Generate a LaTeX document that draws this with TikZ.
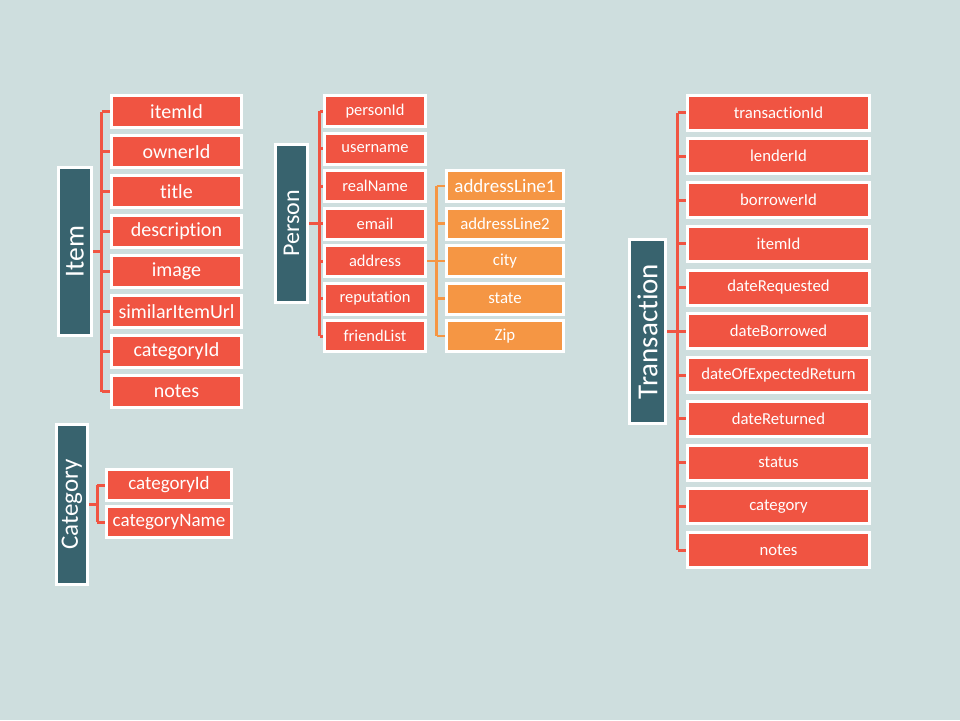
\documentclass[tikz,border=0pt]{standalone}
\usepackage{fontspec}
\setmainfont[Ligatures=NoCommon]{Carlito}
\usetikzlibrary{shadows}
\definecolor{bgcol}{RGB}{206,222,222}
\definecolor{fieldred}{RGB}{240,84,66}
\definecolor{suborange}{RGB}{245,150,68}
\definecolor{entteal}{RGB}{56,99,110}

\begin{document}
\begin{tikzpicture}[x=1pt, y=-1pt,
    entity/.style={draw=white, line width=3pt, fill=entteal, text=white, rotate=90, inner sep=0pt,
      drop shadow={shadow xshift=1.5pt, shadow yshift=-1.5pt, opacity=0.3}},
    field/.style={draw=white, line width=3pt, fill=fieldred, text=white, inner sep=0pt,
      drop shadow={shadow xshift=1.5pt, shadow yshift=-1.5pt, opacity=0.3}},
    subfield/.style={field, fill=suborange},
    link/.style={draw=fieldred, line width=3pt},
    sublink/.style={draw=suborange, line width=2.5pt}]

  % --- Canvas ---
  \fill[bgcol] (0,0) rectangle (960,720);
  \useasboundingbox (0,0) rectangle (960,720);

  % --- Item ---
  \node[entity, minimum width=168pt, minimum height=33pt, font=\fontsize{27.5}{30}\selectfont] (item) at (75,251.5) {Item};
  \foreach \name [count=\i] in {itemId, ownerId, title, description, image, similarItemUrl, categoryId, notes} {
    \node[field, minimum width=130pt, minimum height=32pt, font=\fontsize{20}{22}\selectfont] (item-\i) at (176.5, {111.5+40*(\i-1)}) {\name};
  }
  \coordinate (itembus) at (101.5,251.5);
  \draw[link] (item.south) -- (itembus);
  \draw[link] (itembus |- item-1) -- (itembus |- item-8);
  \foreach \i in {1,...,8} {
    \draw[link] (itembus |- item-\i) -- (item-\i.west);
  }

  % --- Category ---
  \node[entity, minimum width=160pt, minimum height=31pt, font=\fontsize{25}{28}\selectfont] (category) at (72,504.5) {Category};
  \foreach \name [count=\i] in {categoryId, categoryName} {
    \node[field, minimum width=125pt, minimum height=31pt, font=\fontsize{19}{21}\selectfont] (category-\i) at (169, {485+37*(\i-1)}) {\name};
  }
  \coordinate (catbus) at (97,504.5);
  \draw[link] (category.south) -- (catbus);
  \draw[link] (catbus |- category-1) -- (catbus |- category-2);
  \foreach \i in {1,2} {
    \draw[link] (catbus |- category-\i) -- (category-\i.west);
  }

  % --- Person ---
  \node[entity, minimum width=158pt, minimum height=32pt, font=\fontsize{24}{27}\selectfont] (person) at (291.5,223.5) {Person};
  \foreach \name [count=\i] in {personId, username, realName, email, address, reputation, friendList} {
    \node[field, minimum width=101pt, minimum height=31pt, font=\fontsize{16.5}{19}\selectfont] (person-\i) at (375, {111+37.5*(\i-1)}) {\name};
  }
  \coordinate (personbus) at (319.5,223.5);
  \draw[link] (person.south) -- (personbus);
  \draw[link] (personbus |- person-1) -- (personbus |- person-7);
  \foreach \i in {1,...,7} {
    \draw[link] (personbus |- person-\i) -- (person-\i.west);
  }

  % address parts
  \node[subfield, minimum width=117pt, minimum height=31pt, font=\fontsize{19}{21}\selectfont] (addr-1) at (505,186) {addressLine1};
  \foreach \name [count=\i from 2] in {addressLine2, city, state, Zip} {
    \node[subfield, minimum width=117pt, minimum height=31pt, font=\fontsize{16.8}{19}\selectfont] (addr-\i) at (505, {186+37.5*(\i-1)}) {\name};
  }
  \coordinate (addrbus) at (436.5,261);
  \draw[sublink] (person-5.east) -- (addrbus);
  \draw[sublink] (addrbus |- addr-1) -- (addrbus |- addr-5);
  \foreach \i in {1,...,5} {
    \draw[sublink] (addrbus |- addr-\i) -- (addr-\i.west);
  }

  % --- Transaction ---
  \node[entity, minimum width=184pt, minimum height=36pt, font=\fontsize{29}{32}\selectfont] (transaction) at (647.5,331.5) {Transaction};
  \foreach \name [count=\i] in {transactionId, lenderId, borrowerId, itemId, dateRequested, dateBorrowed,
      dateOfExpectedReturn, dateReturned, status, category, notes} {
    \node[field, minimum width=182pt, minimum height=35pt, font=\fontsize{16.7}{19}\selectfont] (trans-\i) at (778.5, {112.5+43.75*(\i-1)}) {\name};
  }
  \coordinate (transbus) at (677.5,331.5);
  \draw[link] (transaction.south) -- (transbus);
  \draw[link] (transbus |- trans-1) -- (transbus |- trans-11);
  \foreach \i in {1,...,11} {
    \draw[link] (transbus |- trans-\i) -- (trans-\i.west);
  }

\end{tikzpicture}
\end{document}
